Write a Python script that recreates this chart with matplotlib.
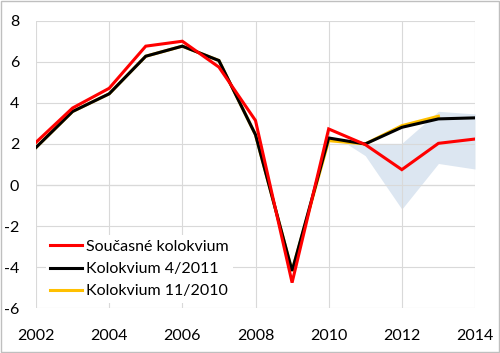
import matplotlib
matplotlib.use("Agg")
import matplotlib.pyplot as plt
from matplotlib.patches import Rectangle

plt.rcParams['font.family'] = ['Lato', 'DejaVu Sans']
plt.rcParams['axes.unicode_minus'] = False

years = list(range(2002, 2015))
soucasne = [2.08, 3.75, 4.71, 6.76, 7.0, 5.74, 3.14, -4.75, 2.73, 1.97, 0.75, 2.03, 2.24]
kol_4_2011 = [1.83, 3.58, 4.44, 6.27, 6.76, 6.06, 2.45, -4.18, 2.29, 2.0, 2.81, 3.22, 3.27]
years_11_2010 = list(range(2002, 2014))
kol_11_2010 = [1.83, 3.58, 4.44, 6.27, 6.76, 6.06, 2.45, -4.18, 2.16, 2.0, 2.89, 3.35]
fan_x = [2010.5, 2011, 2012, 2013, 2014]
fan_low = [2.0, 1.43, -1.17, 1.05, 0.78]
fan_high = [2.0, 2.03, 2.03, 3.59, 3.46]

labels = ["Současné kolokvium", "Kolokvium 4/2011", "Kolokvium 11/2010"]

fig = plt.figure(figsize=(5.0, 3.53), dpi=100)
ax = fig.add_axes([0.072, 0.1266, 0.878, 0.8148])

ax.fill_between(fan_x, fan_low, fan_high, color='#dce6f1', lw=0, zorder=1)
l3, = ax.plot(years_11_2010, kol_11_2010, color='#ffc000', lw=2.2, zorder=3, solid_joinstyle='miter')
l2, = ax.plot(years, kol_4_2011, color='black', lw=2.2, zorder=4, solid_joinstyle='miter')
l1, = ax.plot(years, soucasne, color='#ff0000', lw=2.2, zorder=5, solid_joinstyle='miter')

ax.set_xlim(2002, 2014)
ax.set_ylim(-6, 8)
ax.set_xticks(range(2002, 2015, 2))
ax.set_yticks(range(-6, 9, 2))
ax.grid(True, color='#d9d9d9', lw=0.8, zorder=0)
ax.axhline(0, color='#a6a6a6', lw=0.8, zorder=0.5)
for s in ax.spines.values():
    s.set_visible(False)
ax.tick_params(length=0, labelsize=11.5)
ax.tick_params(axis='y', pad=12)
ax.tick_params(axis='x', pad=15)

leg = ax.legend([l1, l2, l3], labels, loc='upper left', bbox_to_anchor=(0.022, 0.255),
                frameon=True, fontsize=11.5, handlelength=2.0, handletextpad=0.2,
                labelspacing=0.5, borderpad=0.3, borderaxespad=0)
leg.get_frame().set_edgecolor('none')
leg.get_frame().set_facecolor('white')
leg.get_frame().set_alpha(1)
leg.set_zorder(6)

fig.patches.append(Rectangle((0.002, 0.003), 0.995, 0.994, transform=fig.transFigure,
                             fill=False, edgecolor='#bfbfbf', lw=1.0))

fig.savefig("out.png", dpi=100)
